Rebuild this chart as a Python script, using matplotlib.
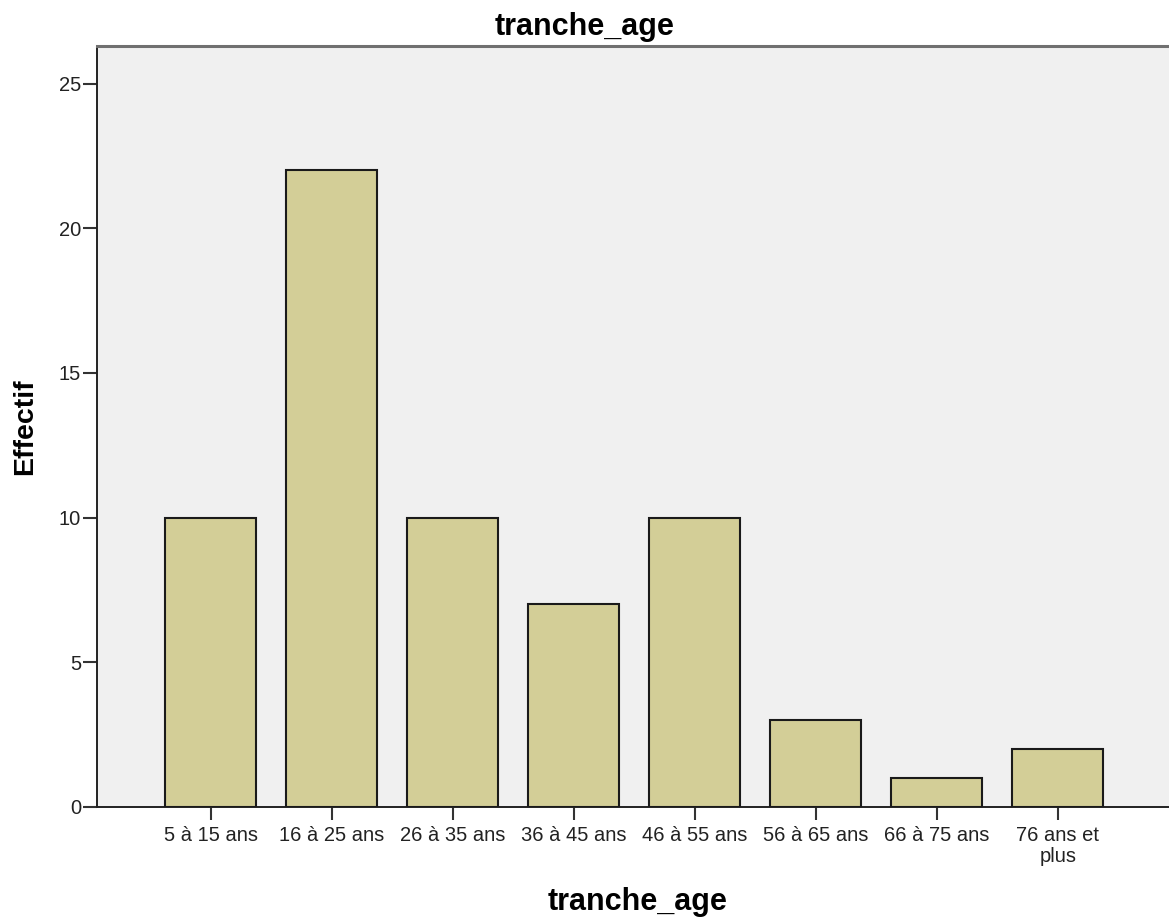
import matplotlib
matplotlib.use('Agg')
import matplotlib.pyplot as plt

categories = ['5 à 15 ans', '16 à 25 ans', '26 à 35 ans', '36 à 45 ans',
              '46 à 55 ans', '56 à 65 ans', '66 à 75 ans', '76 ans et\nplus']
effectifs = [10, 22, 10, 7, 10, 3, 1, 2]
yticks = [0, 5, 10, 15, 20, 25]

plt.rcParams['font.family'] = ['Liberation Sans', 'DejaVu Sans']

fig = plt.figure(figsize=(11.69, 9.17), dpi=100)
ax = fig.add_axes([0.083, 0.12, 0.917, 0.8298])
ax.set_facecolor('#F0F0F0')

x = list(range(len(categories)))
ax.bar(x, effectifs, width=0.75, color='#D3CE97', edgecolor='#1a1a1a',
       linewidth=1.5, zorder=3)

ax.set_xlim(-0.94, 7.92)
ax.set_ylim(0, 26.3)
ax.set_xticks(x)
ax.set_xticklabels(categories, fontsize=14.5, linespacing=1.12)
ax.set_yticks(yticks)
ax.tick_params(axis='y', labelsize=14.5, length=10, width=1.5,
               direction='out', pad=1.5, labelcolor='#222222', color='#333333')
ax.tick_params(axis='x', length=9.5, width=1.5, direction='out', pad=4.5,
               labelcolor='#222222', color='#333333')

ax.spines['right'].set_visible(False)
ax.spines['top'].set_color('#707070')
ax.spines['top'].set_linewidth(2.2)
ax.spines['left'].set_color('#222222')
ax.spines['bottom'].set_color('#222222')
ax.spines['left'].set_linewidth(1.4)
ax.spines['bottom'].set_linewidth(1.4)

# titre et libelles d'axes places sur la figure
fig.text(0.5, 0.9618, 'tranche_age', fontsize=22, fontweight='bold',
         ha='center', va='baseline')
fig.text(0.545, 0.0075, 'tranche_age', fontsize=22, fontweight='bold',
         ha='center', va='baseline')
fig.text(25 / 1169, 0.535, 'Effectif', fontsize=20.5, fontweight='bold',
         ha='center', va='center', rotation=90)

fig.savefig('out.png', dpi=100)
